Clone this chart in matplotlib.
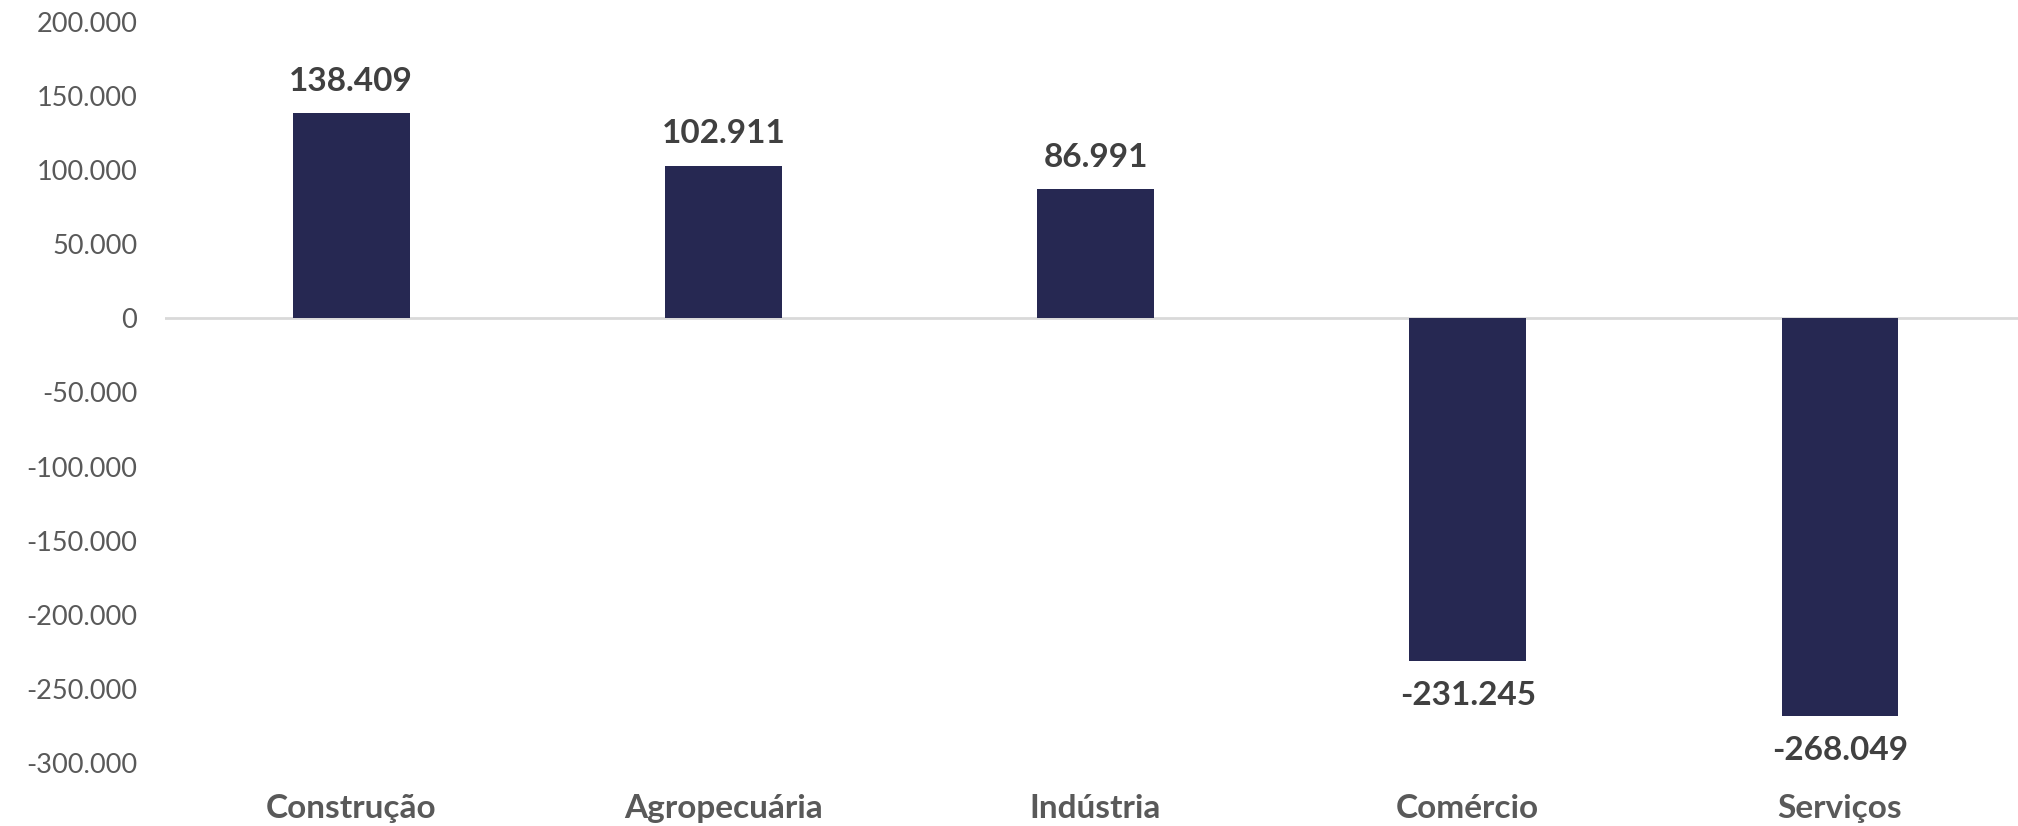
import numpy as np
import matplotlib
matplotlib.use('Agg')
import matplotlib.pyplot as plt
from matplotlib.ticker import FuncFormatter

setores = ['Construção', 'Agropecuária', 'Indústria', 'Comércio', 'Serviços']
saldo = [138409, 102911, 86991, -231245, -268049]
yticks = [200000, 150000, 100000, 50000, 0, -50000, -100000, -150000, -200000, -250000, -300000]

plt.rcParams['font.family'] = ['Lato', 'DejaVu Sans']

def fmt(v):
    return '{:,.0f}'.format(v).replace(',', '.')

fig = plt.figure(figsize=(20.18, 8.26), dpi=100)
ax = fig.add_axes([165/2018, 1 - 763/826, 1 - 165/2018 + 0.004, (763 - 22)/826])

x = np.arange(len(setores))
ax.bar(x, saldo, width=0.314, color='#262852', zorder=2)
ax.axhline(0, color='#d9d9d9', lw=2, zorder=1)

for xi, v in zip(x, saldo):
    off = 23 if v > 0 else -25
    ax.annotate(fmt(v), (xi, v), xytext=(0, off), textcoords='offset points',
                ha='center', va='center', fontsize=24, fontweight='bold', color='#404040')

ax.set_xlim(-0.5, len(setores) - 0.5)
ax.set_ylim(-300000, 200000)
ax.set_yticks(yticks)
ax.yaxis.set_major_formatter(FuncFormatter(lambda v, p: fmt(v)))
ax.tick_params(axis='y', length=0, pad=20, labelsize=19.5, labelcolor='#595959')
ax.set_xticks(x)
ax.set_xticklabels(setores, fontsize=24, fontweight='bold', color='#595959')
ax.tick_params(axis='x', length=0, pad=22)
for s in ax.spines.values():
    s.set_visible(False)

plt.savefig('out.png', dpi=100)
